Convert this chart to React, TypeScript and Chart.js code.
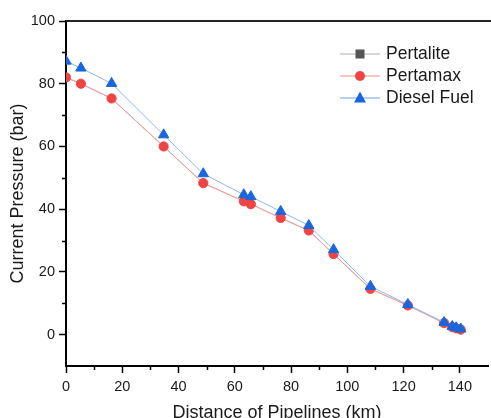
import React, { useEffect, useRef } from 'react';
import { Chart, registerables } from 'chart.js';

Chart.register(...registerables);

const distanceKm = [0, 5.3, 16.2, 34.7, 48.8, 63.2, 65.7, 76.3, 86.3, 95.1, 108.2, 121.5, 134.4, 137.3, 138.7, 140.3];
const pertalite = [82, 80, 75.3, 60, 48.3, 42.5, 41.6, 37.2, 33.2, 25.7, 14.6, 9.3, 3.7, 2.4, 2.0, 1.6];
const pertamax = [82, 80, 75.3, 60, 48.3, 42.5, 41.6, 37.2, 33.2, 25.7, 14.6, 9.3, 3.7, 2.4, 2.0, 1.6];
const dieselFuel = [87.2, 85, 80.1, 63.7, 51.3, 44.6, 44, 39.3, 34.8, 27.1, 15.4, 9.6, 3.9, 2.6, 2.2, 1.8];

const xTicks = [0, 20, 40, 60, 80, 100, 120, 140];
const yTicks = [0, 20, 40, 60, 80, 100];
const xMinorTicks = [10, 30, 50, 70, 90, 110, 130];
const yMinorTicks = [10, 30, 50, 70, 90];

const seriesNames = ['Pertalite', 'Pertamax', 'Diesel Fuel'];

const FONT = "'Liberation Sans', Arial, sans-serif";
const TEXT = '#1a1a1a';

const legendItems = [
  { label: seriesNames[0], line: '#c8c8c8', fill: '#555555', shape: 'rect' },
  { label: seriesNames[1], line: '#f7b3b3', fill: '#f04444', shape: 'circle' },
  { label: seriesNames[2], line: '#9cc1f2', fill: '#1a66dc', shape: 'triangle' },
];

const decorPlugin = {
  id: 'decor',
  afterDraw(chart: any) {
    const { ctx, chartArea } = chart;
    const xs = chart.scales.x;
    const ys = chart.scales.y;
    ctx.save();
    ctx.strokeStyle = '#222';
    ctx.lineWidth = 2;
    ctx.beginPath();
    ctx.moveTo(chartArea.left, chartArea.top);
    ctx.lineTo(chartArea.right + 5, chartArea.top);
    ctx.stroke();
    ctx.lineWidth = 1.5;
    ctx.strokeStyle = '#000';
    ctx.beginPath();
    xMinorTicks.forEach((v) => {
      const px = Math.round(xs.getPixelForValue(v)) + 0.5;
      ctx.moveTo(px, chartArea.bottom);
      ctx.lineTo(px, chartArea.bottom + 4);
    });
    yMinorTicks.forEach((v) => {
      const py = Math.round(ys.getPixelForValue(v)) + 0.5;
      ctx.moveTo(chartArea.left, py);
      ctx.lineTo(chartArea.left - 4, py);
    });
    ctx.stroke();
    const lx0 = 340, lx1 = 380, tx = 386;
    const rows = [54, 76, 98];
    legendItems.forEach((it, i) => {
      const y = rows[i];
      ctx.strokeStyle = it.line;
      ctx.lineWidth = 1.5;
      ctx.beginPath();
      ctx.moveTo(lx0, y);
      ctx.lineTo(lx1, y);
      ctx.stroke();
      ctx.fillStyle = it.fill;
      const cx = 360;
      ctx.beginPath();
      if (it.shape === 'rect') {
        ctx.rect(cx - 4.5, y - 4.5, 9, 9);
      } else if (it.shape === 'circle') {
        ctx.arc(cx, y, 5, 0, Math.PI * 2);
      } else {
        ctx.moveTo(cx, y - 6.5);
        ctx.lineTo(cx + 6, y + 4.5);
        ctx.lineTo(cx - 6, y + 4.5);
        ctx.closePath();
      }
      ctx.fill();
      ctx.fillStyle = TEXT;
      ctx.font = `17.5px ${FONT}`;
      ctx.textBaseline = 'middle';
      ctx.textAlign = 'left';
      ctx.fillText(it.label, tx, y);
    });
    ctx.restore();
  },
};

export default function App() {
  const ref = useRef<HTMLCanvasElement | null>(null);
  useEffect(() => {
    if (!ref.current) return;
    const toPts = (ys: number[]) => distanceKm.map((x, i) => ({ x, y: ys[i] }));
    const chart = new Chart(ref.current, {
      type: 'line',
      data: {
        datasets: [
          {
            label: seriesNames[0],
            data: toPts(pertalite),
            borderColor: '#bbbbbb',
            borderWidth: 1,
            backgroundColor: '#555555',
            pointStyle: 'rect',
            pointRadius: 4.8,
            pointBorderWidth: 0,
            order: 2,
          },
          {
            label: seriesNames[1],
            data: toPts(pertamax),
            borderColor: '#f29a9a',
            borderWidth: 1,
            backgroundColor: '#f04444',
            pointBackgroundColor: '#f04444',
            pointBorderColor: '#f04444',
            pointStyle: 'circle',
            pointRadius: 4.6,
            pointBorderWidth: 1,
            order: 1,
          },
          {
            label: seriesNames[2],
            data: toPts(dieselFuel),
            borderColor: '#8fb8f0',
            borderWidth: 1,
            backgroundColor: '#1a66dc',
            pointBackgroundColor: '#1a66dc',
            pointBorderColor: '#1a66dc',
            pointStyle: 'triangle',
            pointRadius: 6,
            pointBorderWidth: 1,
            order: 0,
          },
        ],
      },
      options: {
        animation: false,
        responsive: false,
        devicePixelRatio: 1,
        layout: { padding: { top: 21, right: 0, left: 0, bottom: 0 } },
        plugins: { legend: { display: false }, tooltip: { enabled: false } },
        scales: {
          x: {
            type: 'linear',
            min: 0,
            max: 150,
            afterBuildTicks: (s: any) => {
              s.ticks = xTicks.map((v) => ({ value: v }));
            },
            afterFit: (s: any) => {
              s.height = 64;
            },
            grid: {
              display: true,
              drawOnChartArea: false,
              drawTicks: true,
              tickLength: 7,
              tickWidth: 1.5,
              tickColor: '#000',
            },
            border: { display: true, color: '#000', width: 2 },
            ticks: {
              font: { family: FONT, size: 14.5 },
              color: TEXT,
              padding: 5,
              maxRotation: 0,
              autoSkip: false,
            },
            title: {
              display: true,
              text: 'Distance of Pipelines (km)',
              font: { family: FONT, size: 18 },
              color: TEXT,
              padding: { top: 0, bottom: 6 },
            },
          },
          y: {
            type: 'linear',
            min: -10,
            max: 100,
            afterBuildTicks: (s: any) => {
              s.ticks = yTicks.map((v) => ({ value: v }));
            },
            afterFit: (s: any) => {
              s.width = 66;
            },
            grid: {
              display: true,
              drawOnChartArea: false,
              drawTicks: true,
              tickLength: 7,
              tickWidth: 1.5,
              tickColor: '#000',
            },
            border: { display: true, color: '#000', width: 2 },
            ticks: {
              font: { family: FONT, size: 14.5 },
              color: TEXT,
              padding: 4,
              autoSkip: false,
            },
            title: {
              display: true,
              text: 'Current Pressure (bar)',
              font: { family: FONT, size: 18 },
              color: TEXT,
              padding: { top: 7.5, bottom: 0 },
            },
          },
        },
      },
      plugins: [decorPlugin],
    });
    return () => chart.destroy();
  }, []);
  return (
    <div
      style={{
        position: 'fixed',
        left: 0,
        top: 0,
        width: 491,
        height: 418,
        overflow: 'hidden',
        background: '#fff',
      }}
    >
      <canvas ref={ref} width={495} height={430} style={{ display: 'block' }} />
    </div>
  );
}
